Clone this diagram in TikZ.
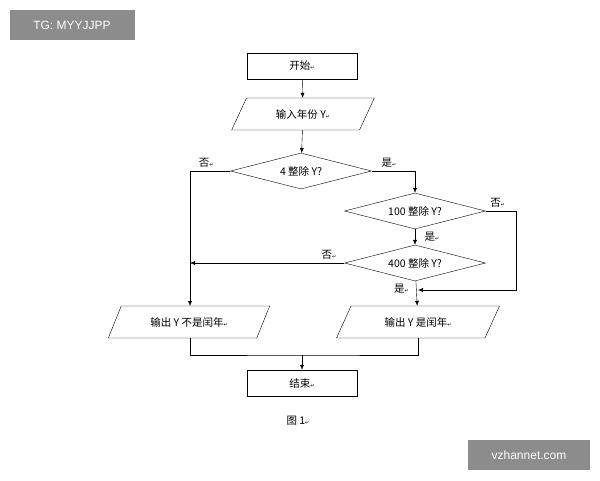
\documentclass[tikz,border=0pt]{standalone}
\usepackage{fontspec}
\setmainfont{Liberation Sans}
\newfontfamily\cjk{Noto Sans CJK SC}
\newfontfamily\sym{DejaVu Sans}
\usetikzlibrary{shapes.geometric,arrows.meta}
\newcommand{\rt}{{\sym\tiny ↵}}
\newcommand{\txt}{\cjk\fontsize{10.5}{12}\selectfont}
\tikzset{
  box/.style={draw, rectangle, minimum width=110pt, minimum height=26pt, font=\txt},
  io/.style={draw, trapezium, trapezium left angle=64, trapezium right angle=116,
    trapezium stretches=true, minimum width=146pt, minimum height=32pt, font=\txt},
  test/.style={draw, diamond, aspect=3.9, inner sep=0pt, minimum width=141pt, minimum height=36pt, font=\txt},
  lbl/.style={font=\txt},
  line/.style={draw, -{Latex[length=5pt,width=4pt]}},
  wmark/.style={fill=black!45, text=white, font=\large}
}
\begin{document}
\begin{tikzpicture}[x=1pt,y=-1pt]
\useasboundingbox (0,0) rectangle (600,480);
\node[wmark, minimum width=125pt, minimum height=30pt] (tg) at (72,25) {TG: MYYJJPP};
\node[wmark, minimum width=122pt, minimum height=30pt] (vz) at (529,455) {vzhannet.com};
\node[box] (start) at (302,66) {开始\rt};
\node[io, minimum width=143pt] (input) at (303,114) {输入年份 Y\rt};
\node[test] (d4) at (301,171) {4 整除 Y?};
\node[test] (d100) at (415,211) {100 整除 Y?};
\node[test] (d400) at (415,263) {400 整除 Y?};
\node[io, minimum width=163pt] (no) at (189,322) {输出 Y 不是闰年\rt};
\node[io, minimum width=164pt] (yes) at (418,322) {输出 Y 是闰年\rt};
\node[box] (stop) at (302,383) {结束\rt};
\node[lbl] (fig) at (298,421) {图 1\rt};
\coordinate (join) at (302,355);
\coordinate (back) at (418,290);
\draw[line] (d4.west) -| node[lbl, pos=0.3, above] {否\rt} (190,306);
\draw[line] (start) -- (input);
\draw[line] (input) -- (d4);
\draw[line] (d4.east) -| node[lbl, pos=0.2, above] {是\rt} (d100.north);
\draw[line] (d100.east) -- ++(30,0) node[lbl, pos=0.4, above] {否\rt} |- (back);
\draw[line] (d100) -- node[lbl, right=6pt] {是\rt} (d400);
\draw[line] (d400.west) -- node[lbl, pos=0.1, above] {否\rt} (190,263);
\draw[line] (d400) -- node[lbl, pos=0.3, left=4pt] {是\rt} (yes);
\draw (190,338) |- (join) -| (418,338);
\draw[line] (join) -- (stop);
\end{tikzpicture}
\end{document}
